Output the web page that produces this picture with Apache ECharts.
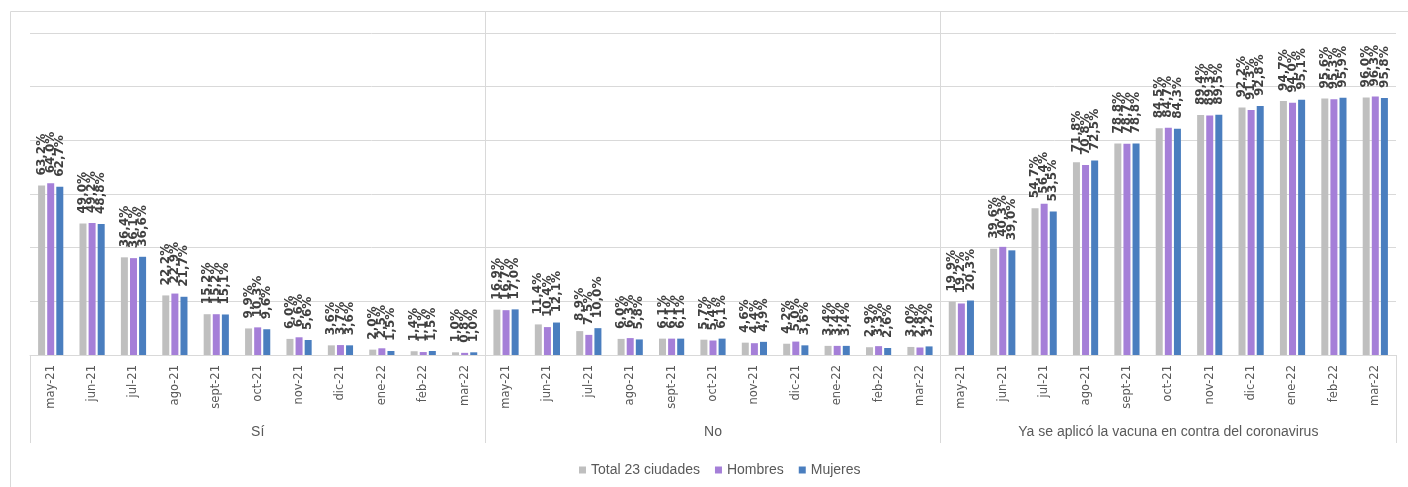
<!DOCTYPE html>
<html>
<head>
<meta charset="utf-8">
<script src="https://cdn.jsdelivr.net/npm/echarts@6/dist/echarts.min.js"></script>
<style>
html,body{margin:0;padding:0;background:#fff;}
#c{width:1408px;height:487px;}
</style>
</head>
<body>
<div id="c"></div>
<script>
// ---- data ----
var months = ['may-21','jun-21','jul-21','ago-21','sept-21','oct-21','nov-21','dic-21','ene-22','feb-22','mar-22'];
var groups = ['Sí','No','Ya se aplicó la vacuna en contra del coronavirus'];
var seriesNames = ['Total 23 ciudades','Hombres','Mujeres'];

// values per group (same order as months)
var totalSi  = [63.2,49.0,36.4,22.2,15.2,9.9,6.0,3.6,2.0,1.4,1.0];
var hombresSi = [64.0,49.2,36.1,22.9,15.2,10.3,6.6,3.7,2.5,1.1,0.8];
var mujeresSi = [62.7,48.8,36.6,21.7,15.1,9.6,5.6,3.6,1.5,1.5,1.0];

var totalNo  = [16.9,11.4,8.9,6.0,6.1,5.7,4.6,4.2,3.4,2.9,3.0];
var hombresNo = [16.7,10.4,7.5,6.3,6.1,5.4,4.4,5.0,3.4,3.3,2.8];
var mujeresNo = [17.0,12.1,10.0,5.8,6.1,6.1,4.9,3.6,3.4,2.6,3.2];

var totalYa  = [19.9,39.6,54.7,71.8,78.8,84.5,89.4,92.2,94.7,95.6,96.0];
var hombresYa = [19.2,40.3,56.4,70.8,78.7,84.7,89.3,91.3,94.0,95.3,96.3];
var mujeresYa = [20.3,39.0,53.5,72.5,78.8,84.3,89.5,92.8,95.1,95.9,95.8];

// ---- build ----
var categories = [];
groups.forEach(function(g){ months.forEach(function(m){ categories.push(g + '|' + m); }); });
var seriesData = [
  totalSi.concat(totalNo, totalYa),
  hombresSi.concat(hombresNo, hombresYa),
  mujeresSi.concat(mujeresNo, mujeresYa)
];
var colors = ['#bfbfbf','#a57fd8','#4a7ebf'];
var gridColor = '#d9d9d9';

var chart = echarts.init(document.getElementById('c'), null, {renderer:'canvas'});
var series = seriesNames.map(function(name, k){
  return {
    name: name,
    type: 'bar',
    xAxisIndex: 0,
    data: seriesData[k],
    barWidth: 7,
    barGap: '30%',
    itemStyle: {color: colors[k]},
    label: {
      show: true,
      position: 'top',
      rotate: 90,
      align: 'left',
      verticalAlign: 'middle',
      distance: 10,
      color: '#404040',
      fontFamily: 'DejaVu Sans',
      fontWeight: 'bold',
      fontSize: 12,
      formatter: function(p){ return p.value.toFixed(1).replace('.', ',') + '%'; }
    }
  };
});

chart.setOption({
  animation: false,
  color: colors,
  graphic: [{
    type: 'rect',
    silent: true,
    z: -1,
    shape: {x: 10.5, y: 11.5, width: 1420, height: 500},
    style: {fill: 'none', stroke: gridColor, lineWidth: 1}
  }],
  grid: {left: 30, right: 12, top: 11, bottom: 132, containLabel: false},
  legend: {
    data: seriesNames,
    left: 574,
    top: 458,
    icon: 'rect',
    itemWidth: 7,
    itemHeight: 7,
    itemGap: 15,
    textStyle: {color: '#595959', fontSize: 14, fontFamily: 'Liberation Sans, sans-serif'}
  },
  xAxis: [{
    type: 'category',
    data: categories,
    position: 'bottom',
    axisLine: {show: true, lineStyle: {color: gridColor}},
    axisTick: {show: true, length: 88, interval: function(i){ return i % months.length === 0; }, lineStyle: {color: gridColor}},
    axisLabel: {
      interval: 0,
      rotate: 90,
      margin: 10,
      color: '#595959',
      fontSize: 11.5,
      fontFamily: 'DejaVu Sans',
      formatter: function(v){ return v.split('|')[1]; }
    },
    splitLine: {show: false}
  }, {
    type: 'category',
    data: groups,
    position: 'bottom',
    offset: 70,
    axisLine: {show: false},
    axisTick: {show: false},
    axisLabel: {interval: 0, margin: 0, color: '#595959', fontSize: 14, fontFamily: 'Liberation Sans, sans-serif', verticalAlign: 'top'},
    splitLine: {show: true, showMaxLine: false, interval: function(i){ return i > 0; }, lineStyle: {color: gridColor}}
  }],
  yAxis: {
    type: 'value',
    min: 0,
    max: 128.2,
    interval: 20,
    axisLine: {show: false},
    axisTick: {show: false},
    axisLabel: {show: false},
    splitLine: {show: true, lineStyle: {color: gridColor}}
  },
  series: series
});
</script>
</body>
</html>
